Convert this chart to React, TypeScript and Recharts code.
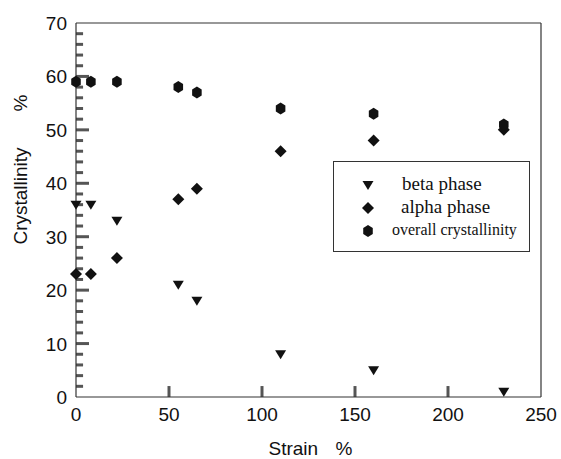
import React from 'react';
import { ScatterChart, Scatter, XAxis, YAxis, ReferenceLine, Legend } from 'recharts';

const strain = [0, 8, 22, 55, 65, 110, 160, 230];
const betaPhase = [36, 36, 33, 21, 18, 8, 5, 1];
const alphaPhase = [23, 23, 26, 37, 39, 46, 48, 50];
const overall = [59, 59, 59, 58, 57, 54, 53, 51];

const xTicks = [0, 50, 100, 150, 200, 250];
const yTicks = Array.from({ length: 36 }, (_, i) => i * 2);
const yInnerTicks = yTicks.filter((v) => v > 0 && v < 70);
const xInnerTicks = xTicks.filter((v) => v > 0 && v < 250);

// inward tick mark lengths in axis units (~13px, ~7px, ~11px)
const Y_MAJOR_LEN = 7;
const Y_MINOR_LEN = 3.8;
const X_TICK_LEN = 2.05;

const toPts = (ys: number[]) => strain.map((x, i) => ({ x, y: ys[i] }));
const betaData = toPts(betaPhase);
const alphaData = toPts(alphaPhase);
const overallData = toPts(overall);

const INK = '#111';
const TICK = '#555';
const FRAME = '#333';
const SANS = '"Liberation Sans", Arial, sans-serif';
const SERIF = '"Liberation Serif", "Times New Roman", serif';

const Tri = (cx: number, cy: number) => (
  <polygon points={`${cx - 5.5},${cy - 4} ${cx + 5.5},${cy - 4} ${cx},${cy + 5}`} fill={INK} />
);
const Dia = (cx: number, cy: number) => (
  <polygon points={`${cx},${cy - 6} ${cx + 6},${cy} ${cx},${cy + 6} ${cx - 6},${cy}`} fill={INK} />
);
const Hex = (cx: number, cy: number) => {
  const r = 6;
  const pts = [90, 30, -30, -90, -150, 150]
    .map((a) => {
      const t = (a * Math.PI) / 180;
      return `${cx + r * 0.92 * Math.cos(t)},${cy - r * Math.sin(t)}`;
    })
    .join(' ');
  return <polygon points={pts} fill={INK} />;
};

const TriShape = (p: any) => Tri(p.cx, p.cy);
const DiaShape = (p: any) => Dia(p.cx, p.cy);
const HexShape = (p: any) => Hex(p.cx, p.cy);

function YTick(p: any) {
  const v = Number(p.payload.value);
  if (v % 10 !== 0) return <g />;
  return (
    <text x={Number(p.x) - 9} y={Number(p.y) + 7} textAnchor="end" fontFamily={SANS} fontSize={19} fill={INK} stroke="none">
      {v}
    </text>
  );
}

function XTick(p: any) {
  const v = Number(p.payload.value);
  return (
    <text x={Number(p.x)} y={Number(p.y) + 24} textAnchor="middle" fontFamily={SANS} fontSize={19} fill={INK} stroke="none">
      {v}
    </text>
  );
}

const YLabel = (p: any) => {
  const vb = p.viewBox;
  const cy = vb.y + vb.height / 2;
  const x = 27;
  return (
    <g fontFamily={SANS} fontSize={19} fill={INK}>
      <text x={x} y={cy - 14} textAnchor="middle" transform={`rotate(-90 ${x} ${cy - 14})`}>
        Crystallinity
      </text>
      <text x={x} y={cy - 107} textAnchor="middle" transform={`rotate(-90 ${x} ${cy - 107})`}>
        %
      </text>
    </g>
  );
};

const XLabel = (p: any) => {
  const vb = p.viewBox;
  const cx = vb.x + vb.width / 2;
  return (
    <g fontFamily={SANS} fontSize={19} fill={INK}>
      <text x={cx - 40} y={455}>Strain</text>
      <text x={cx + 27} y={455}>%</text>
    </g>
  );
};

const LegendBox = () => (
  <svg width={198} height={92} style={{ display: 'block' }}>
    <rect x={0.5} y={0.5} width={196} height={90} fill="#fff" stroke="#333" strokeWidth={1} />
    {Tri(35, 24)}
    {Dia(35, 47)}
    {Hex(35, 70)}
    <text x={69} y={29} fontFamily={SERIF} fontSize={19} fill={INK}>beta phase</text>
    <text x={68} y={52} fontFamily={SERIF} fontSize={19} fill={INK}>alpha phase</text>
    <text x={59} y={74} fontFamily={SERIF} fontSize={16} fill={INK}>overall crystallinity</text>
  </svg>
);

export default function App() {
  return (
    <div style={{ position: 'absolute', left: 0, top: 0, width: 561, height: 459, background: '#fff' }}>
      <ScatterChart width={561} height={459} margin={{ top: 23, right: 20, bottom: 22, left: 16 }}>
        <ReferenceLine y={70} stroke={FRAME} strokeWidth={1.2} ifOverflow="visible" />
        <ReferenceLine x={250} stroke={FRAME} strokeWidth={1.2} ifOverflow="visible" />
        {yInnerTicks.map((v) => (
          <ReferenceLine
            key={`yt${v}`}
            segment={[
              { x: 0, y: v },
              { x: v % 10 === 0 ? Y_MAJOR_LEN : Y_MINOR_LEN, y: v },
            ]}
            stroke={TICK}
            strokeWidth={3}
            ifOverflow="visible"
          />
        ))}
        {xInnerTicks.map((v) => (
          <ReferenceLine
            key={`xt${v}`}
            segment={[
              { x: v, y: 0 },
              { x: v, y: X_TICK_LEN },
            ]}
            stroke={TICK}
            strokeWidth={3}
            ifOverflow="visible"
          />
        ))}
        <XAxis
          type="number"
          dataKey="x"
          domain={[0, 250]}
          ticks={xTicks}
          tickSize={0}
          tickMargin={0}
          tickLine={false}
          tick={(props: any) => <XTick {...props} />}
          axisLine={{ stroke: FRAME, strokeWidth: 1.2 }}
          height={40}
          interval={0}
          label={<XLabel />}
        />
        <YAxis
          type="number"
          dataKey="y"
          domain={[0, 70]}
          ticks={yTicks}
          tickSize={0}
          tickMargin={0}
          tickLine={false}
          tick={(props: any) => <YTick {...props} />}
          axisLine={{ stroke: FRAME, strokeWidth: 1.2 }}
          width={60}
          interval={0}
          label={<YLabel />}
        />
        <Scatter name="beta phase" data={betaData} shape={TriShape} isAnimationActive={false} />
        <Scatter name="alpha phase" data={alphaData} shape={DiaShape} isAnimationActive={false} />
        <Scatter name="overall crystallinity" data={overallData} shape={HexShape} isAnimationActive={false} />
        <Legend
          layout="vertical"
          align="center"
          verticalAlign="middle"
          content={<LegendBox />}
          wrapperStyle={{ position: 'absolute', left: 333, top: 161, width: 198, height: 92 }}
        />
      </ScatterChart>
    </div>
  );
}
